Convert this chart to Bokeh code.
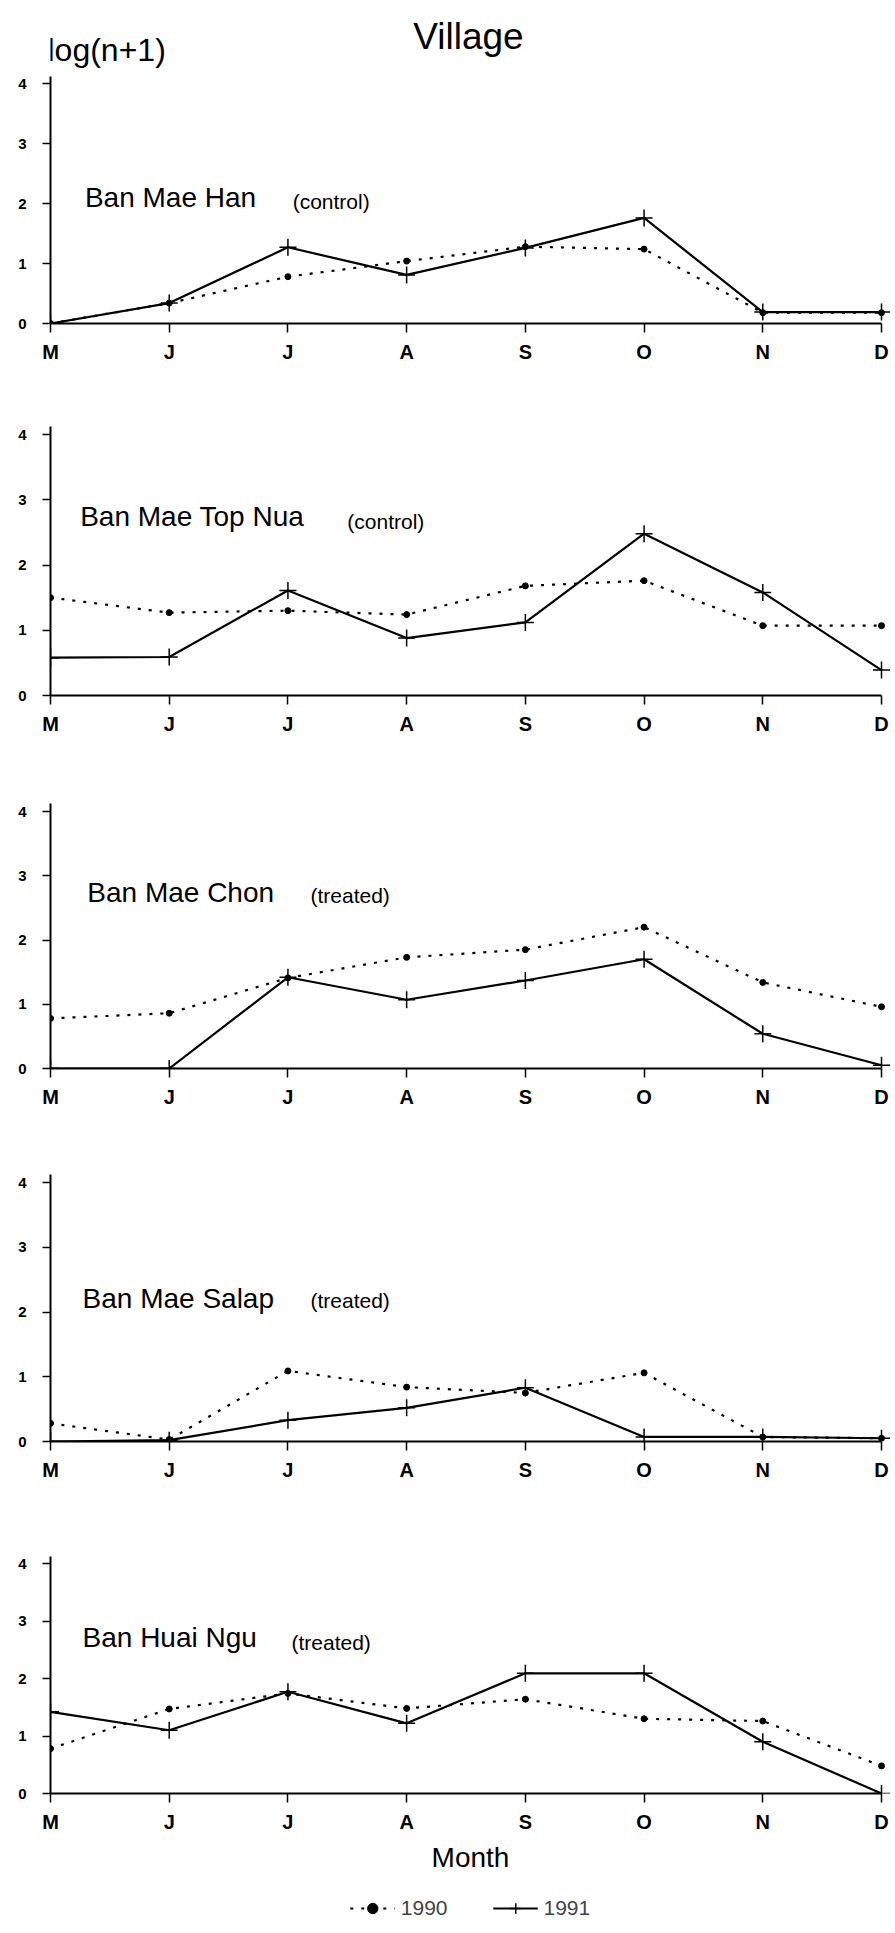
from bokeh.plotting import figure
from bokeh.layouts import column
from bokeh.models import Range1d, Label, Legend, LegendItem, FixedTicker
from bokeh.embed import file_html
from bokeh.resources import INLINE

# ---------------- data ----------------
months = ["M", "J", "J", "A", "S", "O", "N", "D"]
month_idx = list(range(len(months)))
y_ticks = [0, 1, 2, 3, 4]

villages = ["Ban Mae Han", "Ban Mae Top Nua", "Ban Mae Chon", "Ban Mae Salap", "Ban Huai Ngu"]
status = ["(control)", "(control)", "(treated)", "(treated)", "(treated)"]
years = ["1990", "1991"]

mae_han_1990 = [0.00, 0.34, 0.78, 1.04, 1.28, 1.24, 0.18, 0.18]
mae_han_1991 = [0.00, 0.34, 1.27, 0.81, 1.26, 1.76, 0.19, 0.19]

mae_top_nua_1990 = [1.50, 1.27, 1.30, 1.24, 1.68, 1.76, 1.07, 1.07]
mae_top_nua_1991 = [0.58, 0.59, 1.61, 0.88, 1.12, 2.48, 1.58, 0.39]

mae_chon_1990 = [0.78, 0.86, 1.41, 1.73, 1.85, 2.20, 1.34, 0.96]
mae_chon_1991 = [0.00, 0.00, 1.42, 1.07, 1.37, 1.70, 0.54, 0.05]

mae_salap_1990 = [0.28, 0.03, 1.09, 0.84, 0.75, 1.06, 0.07, 0.05]
mae_salap_1991 = [0.00, 0.02, 0.33, 0.52, 0.83, 0.07, 0.07, 0.05]

huai_ngu_1990 = [0.78, 1.47, 1.74, 1.48, 1.64, 1.30, 1.26, 0.48]
huai_ngu_1991 = [1.42, 1.10, 1.77, 1.22, 2.09, 2.09, 0.90, 0.00]

series_1990 = [mae_han_1990, mae_top_nua_1990, mae_chon_1990, mae_salap_1990, huai_ngu_1990]
series_1991 = [mae_han_1991, mae_top_nua_1991, mae_chon_1991, mae_salap_1991, huai_ngu_1991]

# ---------------- layout (page pixel geometry) ----------------
FONT = "Liberation Sans"
W = 895
MX, DX = 50, 881          # page x of first / last month
PAD = 9
FL = MX                   # frame left
FR_EDGE = DX + PAD        # frame right
UX = (DX - MX) / 7.0
# y of tick "4", y of tick "0" for each panel
geom = [
    (83, 323),
    (434, 695),
    (811, 1068),
    (1182, 1441),
    (1563, 1793),
]
# name label (x, y) and status label (x, y) in data units
label_pos = [
    ((0.29, 2.10), (2.04, 2.03)),
    ((0.25, 2.74), (2.50, 2.66)),
    ((0.31, 2.74), (2.19, 2.69)),
    ((0.27, 2.21), (2.19, 2.18)),
    ((0.27, 2.71), (2.03, 2.63)),
]

HEADER_BOTTOM = 68
P5_BOTTOM = 1882
PAGE_BOTTOM = 1933


def blank_fig(h, xr, yr):
    f = figure(width=W, height=h, x_range=xr, y_range=yr,
               output_backend="svg", toolbar_location=None,
               x_axis_location=None, y_axis_location=None,
               min_border_left=FL, min_border_right=W - FR_EDGE,
               min_border_top=0, min_border_bottom=0)
    f.grid.visible = False
    f.outline_line_color = None
    return f


header = blank_fig(HEADER_BOTTOM, Range1d(FL, FR_EDGE), Range1d(HEADER_BOTTOM, 0))
header.add_layout(Label(x=468, y=36, text="Village", text_font=FONT, text_font_size="37px",
                        text_align="center", text_baseline="middle", text_color="black"))
header.add_layout(Label(x=47, y=49, text="log(n+1)", text_font=FONT, text_font_size="32px",
                        text_align="left", text_baseline="middle", text_color="black"))

figs = [header]
fig_top = HEADER_BOTTOM
for i in range(5):
    y4, y0 = geom[i]
    uy = (y0 - y4) / 4.0
    ft, fb = y4 - PAD, y0
    fig_bottom = P5_BOTTOM if i == 4 else fb + 62
    p = figure(width=W, height=fig_bottom - fig_top,
               x_range=Range1d(0, 7 + PAD / UX),
               y_range=Range1d(0, 4 + (y4 - ft) / uy),
               output_backend="svg", toolbar_location=None,
               min_border_left=FL, min_border_right=W - FR_EDGE,
               min_border_top=ft - fig_top, min_border_bottom=fig_bottom - fb)
    p.outline_line_color = None
    p.grid.visible = False
    p.background_fill_color = "white"

    for ax in (p.xaxis[0], p.yaxis[0]):
        ax.axis_line_width = 2
        ax.axis_line_color = "black"
        ax.major_tick_line_width = 1.5
        ax.major_tick_line_color = "black"
        ax.major_tick_in = 0
        ax.minor_tick_line_color = None
        ax.major_label_text_font = FONT
        ax.major_label_text_font_style = "bold"
        ax.major_label_text_color = "black"
    p.xaxis.ticker = FixedTicker(ticks=month_idx)
    p.xaxis.major_label_overrides = {k: m for k, m in zip(month_idx, months)}
    p.xaxis.major_label_text_font_size = "20px"
    p.xaxis.major_tick_out = 9
    p.xaxis.major_label_standoff = 8
    p.xaxis.bounds = (0, 7)
    p.yaxis.ticker = FixedTicker(ticks=y_ticks)
    p.yaxis.major_label_text_font_size = "15px"
    p.yaxis.major_tick_out = 8
    p.yaxis.major_label_standoff = 16
    p.yaxis.bounds = (0, 4.12)

    p.line(month_idx, series_1990[i], line_color="black", line_width=2.2, line_dash="3 8")
    p.scatter(month_idx, series_1990[i], marker="circle", size=6,
              fill_color="black", line_color="black")
    p.line(month_idx, series_1991[i], line_color="black", line_width=2.2)
    p.scatter(month_idx, series_1991[i], marker="cross", size=17,
              line_color="black", line_width=1.5)

    (nx, ny), (sx, sy) = label_pos[i]
    p.add_layout(Label(x=nx, y=ny, text=villages[i], text_font=FONT, text_font_size="28px",
                       text_align="left", text_baseline="middle", text_color="black"))
    p.add_layout(Label(x=sx, y=sy, text=status[i], text_font=FONT, text_font_size="21px",
                       text_align="left", text_baseline="middle", text_color="black"))

    if i == 4:
        p.xaxis.axis_label = "Month"
        p.xaxis.axis_label_text_font = FONT
        p.xaxis.axis_label_text_font_size = "28px"
        p.xaxis.axis_label_text_font_style = "normal"
        p.xaxis.axis_label_text_color = "black"
        p.xaxis.axis_label_standoff = 6
    figs.append(p)
    fig_top = fig_bottom

# footer with the legend (series drawn out of view, only their legend swatches show)
FOOT_H = PAGE_BOTTOM - P5_BOTTOM
footer = blank_fig(FOOT_H, Range1d(0, 7), Range1d(-100, -99))
f90l = footer.line(month_idx, huai_ngu_1990, line_color="black", line_width=2.2, line_dash="3 8")
f90c = footer.scatter(month_idx, huai_ngu_1990, marker="circle", size=6,
                      fill_color="black", line_color="black")
f91l = footer.line(month_idx, huai_ngu_1991, line_color="black", line_width=2.2)
f91x = footer.scatter(month_idx, huai_ngu_1991, marker="cross", size=17,
                      line_color="black", line_width=1.5)
legend = Legend(items=[LegendItem(label=years[0], renderers=[f90l, f90c]),
                       LegendItem(label=years[1], renderers=[f91l, f91x])],
                orientation="horizontal", location="center",
                border_line_color=None, background_fill_alpha=0,
                label_text_font=FONT, label_text_font_size="21px",
                glyph_width=45, glyph_height=26, label_height=26, spacing=45,
                label_standoff=6, padding=0, margin=0)
footer.add_layout(legend, "center")
figs.append(footer)

layout = column(*figs, spacing=0)
open("out.html", "w").write(file_html(layout, INLINE))
